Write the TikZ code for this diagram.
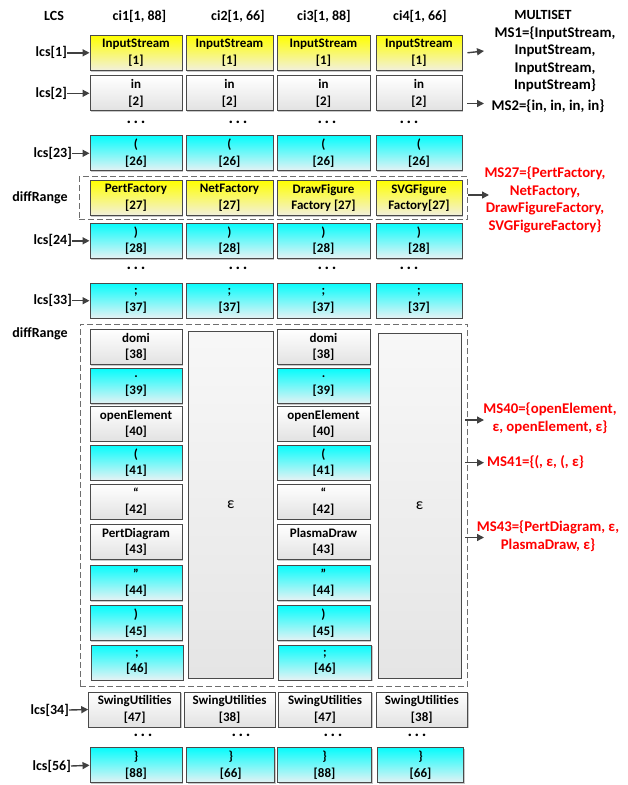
\documentclass[tikz,border=0pt]{standalone}
\usepackage{fontspec}
\setmainfont{Carlito}
\usetikzlibrary{arrows.meta,shadows}
\definecolor{boxline}{HTML}{4A4A4A}
\definecolor{ytop}{HTML}{FFFF00}
\definecolor{ybot}{HTML}{F2F0DC}
\definecolor{ctop}{HTML}{08FCFC}
\definecolor{cbot}{HTML}{E6F2F4}
\definecolor{gbot}{HTML}{E2E2E2}
\definecolor{arrowc}{HTML}{404040}
\definecolor{msred}{HTML}{FF0000}
\begin{document}
\begin{tikzpicture}[x=1pt,y=-1pt,
  base/.style={draw=boxline, line width=0.9pt, minimum height=35pt, inner sep=0pt, align=center,
    font=\fontsize{13}{16.5}\selectfont\bfseries,
    drop shadow={shadow xshift=1.2pt, shadow yshift=-1.2pt, fill=black, opacity=0.22}},
  ybox/.style={base, top color=ytop, bottom color=ybot},
  cbox/.style={base, top color=ctop, bottom color=cbot},
  gbox/.style={base, top color=white, bottom color=gbot},
  ebox/.style={draw=boxline, line width=0.9pt, inner sep=0pt, top color=white!97!black, bottom color=gbot!90!white,
    font=\fontsize{16}{18}\selectfont},
  wa/.style={minimum width=92pt}, wb/.style={minimum width=87pt},
  wc/.style={minimum width=93pt}, wd/.style={minimum width=86pt},
  hdr/.style={font=\fontsize{14}{16}\selectfont\bfseries, inner sep=0pt},
  lbl/.style={font=\fontsize{14}{16}\selectfont\bfseries, inner sep=0pt, anchor=east},
  dots/.style={font=\fontsize{17}{17}\selectfont\bfseries, inner sep=0pt},
  arr/.style={draw=arrowc, line width=1.4pt, -{Triangle[length=7pt,width=7pt]}},
  dbox/.style={draw=boxline!80, line width=0.8pt, dash pattern=on 6pt off 3pt},
  ms/.style={font=\fontsize{14.8}{17.5}\selectfont\bfseries, align=center, inner sep=0pt},
  msr/.style={ms, text=msred}]
\useasboundingbox (0,0) rectangle (627,785);
\newcommand{\tdots}{.\hspace{2.5pt}.\hspace{2.5pt}.}
% dashed ranges
\node[dbox, minimum width=388.7pt, minimum height=42.3pt, inner sep=0pt] (dr1) at (273.35,197.85) {};
\node[dbox, minimum width=387.7pt, minimum height=362.7pt, inner sep=0pt] (dr2) at (273.85,505.35) {};
% headers
\node[hdr] (hlcs) at (54,16) {LCS};
\node[hdr] (h1) at (139.5,16) {ci1[1, 88]};
\node[hdr] (h2) at (238,16) {ci2[1, 66]};
\node[hdr] (h3) at (324,16) {ci3[1, 88]};
\node[hdr] (h4) at (420,16) {ci4[1, 66]};
\node[hdr] (hms) at (543,15) {MULTISET};
% row 1
\node[ybox,wa] (a1) at (136,52.8) {InputStream\\{}[1]};
\node[ybox,wb] (b1) at (229.5,52.8) {InputStream\\{}[1]};
\node[ybox,wc] (c1) at (323.5,52.8) {InputStream\\{}[1]};
\node[ybox,wd] (d1) at (419,52.8) {InputStream\\{}[1]};
% row 2
\node[gbox,wa] (a2) at (136,93.3) {in\\{}[2]};
\node[gbox,wb] (b2) at (229.5,93.3) {in\\{}[2]};
\node[gbox,wc] (c2) at (323.5,93.3) {in\\{}[2]};
\node[gbox,wd] (d2) at (419,93.3) {in\\{}[2]};
% dots
\node[dots] (da1) at (136,122) {\tdots};
\node[dots] (db1) at (238,122) {\tdots};
\node[dots] (dc1) at (327,122) {\tdots};
\node[dots] (dd1) at (409,122) {\tdots};
% row 23
\node[cbox,wa] (a23) at (136,153.3) {(\\{}[26]};
\node[cbox,wb] (b23) at (229.5,153.3) {(\\{}[26]};
\node[cbox,wc] (c23) at (323.5,153.3) {(\\{}[26]};
\node[cbox,wd] (d23) at (419,153.3) {(\\{}[26]};
% diff row
\node[ybox,wa] (aD) at (136,197.8) {PertFactory\\{}[27]};
\node[ybox,wb] (bD) at (229.5,197.8) {NetFactory\\{}[27]};
\node[ybox,wc] (cD) at (323.5,197.8) {DrawFigure\\Factory [27]};
\node[ybox,wd] (dD) at (419,197.8) {SVGFigure\\Factory[27]};
% row 24
\node[cbox,wa] (a24) at (136,240.8) {)\\{}[28]};
\node[cbox,wb] (b24) at (229.5,240.8) {)\\{}[28]};
\node[cbox,wc] (c24) at (323.5,240.8) {)\\{}[28]};
\node[cbox,wd] (d24) at (419,240.8) {)\\{}[28]};
\node[dots] (da2) at (136,268) {\tdots};
\node[dots] (db2) at (238,268) {\tdots};
\node[dots] (dc2) at (327,268) {\tdots};
\node[dots] (dd2) at (409,268) {\tdots};
% row 33
\node[cbox,wa] (a33) at (136,300.7) {;\\{}[37]};
\node[cbox,wb] (b33) at (229.5,300.7) {;\\{}[37]};
\node[cbox,wc] (c33) at (323.5,300.7) {;\\{}[37]};
\node[cbox,wd] (d33) at (419,300.7) {;\\{}[37]};
% inner column 1
\node[gbox,wa] (a38) at (136,346.8) {domi\\{}[38]};
\node[cbox,wa] (a39) at (136,386.2) {.\\{}[39]};
\node[gbox,wa] (a40) at (136,423.7) {openElement\\{}[40]};
\node[cbox,wa] (a41) at (136,462.7) {(\\{}[41]};
\node[gbox,wa] (a42) at (136,501.5) {“\\{}[42]};
\node[gbox,wa] (a43) at (136,541.8) {PertDiagram\\{}[43]};
\node[cbox,wa] (a44) at (136,582.8) {”\\{}[44]};
\node[cbox,wa] (a45) at (136,623.3) {)\\{}[45]};
\node[cbox,wa] (a46) at (137,662.5) {;\\{}[46]};
% inner column 3
\node[gbox,wc] (c38) at (323.5,346.8) {domi\\{}[38]};
\node[cbox,wc] (c39) at (323.5,386.2) {.\\{}[39]};
\node[gbox,wc] (c40) at (323.5,423.7) {openElement\\{}[40]};
\node[cbox,wc] (c41) at (323.5,462.7) {(\\{}[41]};
\node[gbox,wc] (c42) at (323.5,501.5) {“\\{}[42]};
\node[gbox,wc] (c43) at (323.5,541.8) {PlasmaDraw\\{}[43]};
\node[cbox,wc] (c44) at (323.5,582.8) {”\\{}[44]};
\node[cbox,wc] (c45) at (323.5,623.3) {)\\{}[45]};
\node[cbox,wc] (c46) at (325,662.5) {;\\{}[46]};
% epsilon columns
\node[ebox, minimum width=85pt, minimum height=346.6pt] (bE) at (230.8,505) {ε};
\node[ebox, minimum width=82.7pt, minimum height=345pt] (dE) at (419.6,505.8) {ε};
% row 34
\node[gbox,wa] (a34) at (134.7,709.5) {SwingUtilities\\{}[47]};
\node[gbox,minimum width=91pt] (b34) at (229.6,709.5) {SwingUtilities\\{}[38]};
\node[gbox,wc] (c34) at (325,709.5) {SwingUtilities\\{}[47]};
\node[gbox,minimum width=91pt] (d34) at (421.8,709.5) {SwingUtilities\\{}[38]};
\node[dots] (da3) at (143,735) {\tdots};
\node[dots] (db3) at (241,735) {\tdots};
\node[dots] (dc3) at (333,735) {\tdots};
\node[dots] (dd3) at (417,735) {\tdots};
% row 56
\node[cbox,wa] (a56) at (136,765.3) {\}\\{}[88]};
\node[cbox,minimum width=88pt] (b56) at (230.8,765.3) {\}\\{}[66]};
\node[cbox,minimum width=94pt] (c56) at (324.5,765.3) {\}\\{}[88]};
\node[cbox,wd] (d56) at (420.5,765.3) {\}\\{}[66]};
% left labels
\node[lbl] (l1) at (67,52.8) {lcs[1]};
\node[lbl] (l2) at (67,93.3) {lcs[2]};
\node[lbl] (l23) at (72,153.3) {lcs[23]};
\node[hdr] (ldr1) at (40,197.8) {diffRange};
\node[lbl] (l24) at (72,240.8) {lcs[24]};
\node[lbl] (l33) at (72,300.7) {lcs[33]};
\node[hdr] (ldr2) at (40,333.5) {diffRange};
\node[lbl] (l34) at (69,710) {lcs[34]};
\node[lbl] (l56) at (71,766) {lcs[56]};
\draw[arr] (l1.east) -- (a1.west);
\draw[arr] (l2.east) -- (a2.west);
\draw[arr] (l23.east) -- (a23.west);
\draw[arr] (l24.east) -- (a24.west);
\draw[arr] (l33.east) -- (a33.west);
\draw[arr] (l34.east) -- (a34.west);
\draw[arr] (l56.east) -- (a56.west);
% right multisets
\node[ms] (ms1) at (555,59.5) {MS1=\{InputStream,\\InputStream,\\InputStream,\\InputStream\}};
\node[ms] (ms2) at (548,106.5) {MS2=\{in, in, in, in\}};
\coordinate (t1) at (484,51);
\coordinate (t2) at (484,103.5);
\draw[arr] ([xshift=5pt]d1.east) -- (t1);
\draw[arr] ([xshift=5pt]d2.east |- t2) -- (t2);
\node[msr] (ms27) at (545,200) {MS27=\{PertFactory,\\NetFactory,\\DrawFigureFactory,\\SVGFigureFactory\}};
\coordinate (t27) at (489,195);
\draw[arr] (dr1.east |- t27) -- (t27);
\node[msr] (ms40) at (550,418.5) {MS40=\{openElement,\\ε, openElement, ε\}};
\coordinate (t40) at (484,420);
\draw[arr] ([xshift=-3pt]dr2.east |- t40) -- (t40);
\node[msr, anchor=west] (ms41) at (487,462.5) {MS41=\{(, ε, (, ε\}};
\coordinate (t41) at (484,462.7);
\draw[arr] ([xshift=-3pt]dr2.east |- t41) -- (t41);
\node[msr] (ms43) at (548,536) {MS43=\{PertDiagram, ε,\\PlasmaDraw, ε\}};
\coordinate (t43) at (484,537.5);
\draw[arr] ([xshift=-3pt]dr2.east |- t43) -- (t43);
\end{tikzpicture}
\end{document}
